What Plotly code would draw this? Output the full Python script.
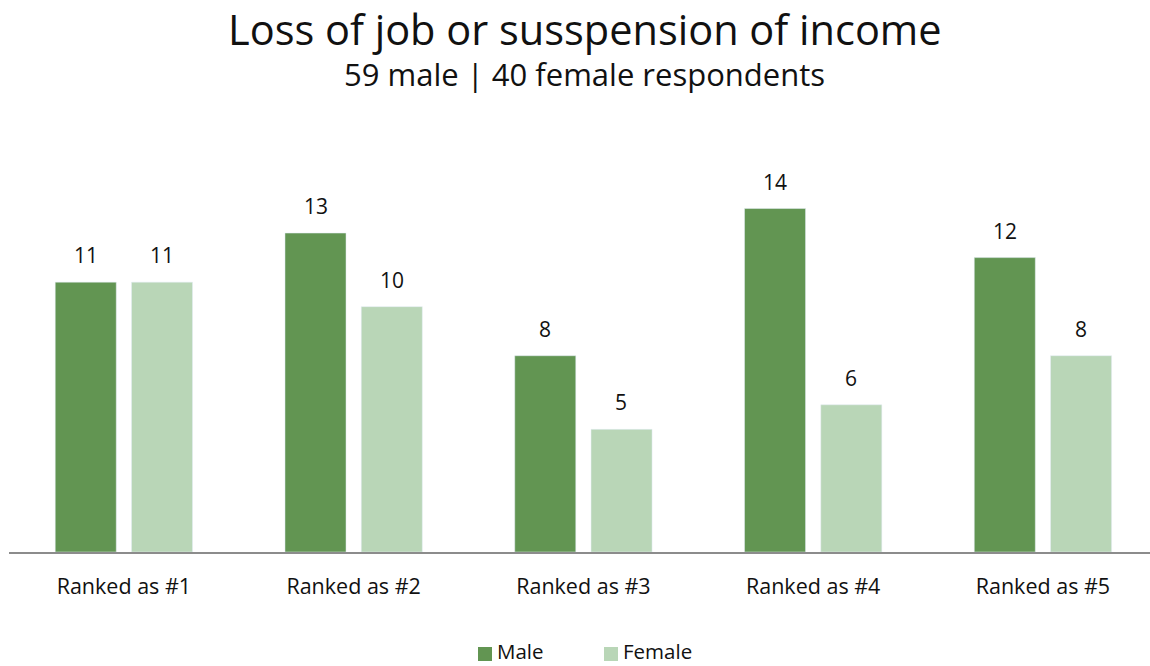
import plotly.graph_objects as go

categories = ["Ranked as #1", "Ranked as #2", "Ranked as #3", "Ranked as #4", "Ranked as #5"]
male = [11, 13, 8, 14, 12]
female = [11, 10, 5, 6, 8]
series_names = ["Male", "Female"]

MALE_COLOR = "#629552"
FEMALE_COLOR = "#b9d6b7"
FONT = "Open Sans"
TEXT = "#111111"

W, H = 1150, 666
M_L, M_R, M_T, M_B = 9, 0, 184, 114
plot_w = W - M_L - M_R
plot_h = H - M_T - M_B


def px_x(x):
    return (x - M_L) / plot_w


def px_y(y):
    return (H - M_B - y) / plot_h


fig = go.Figure()
fig.add_bar(x=categories, y=male, name=series_names[0], marker_color=MALE_COLOR)
fig.add_bar(x=categories, y=female, name=series_names[1], marker_color=FEMALE_COLOR)

annotations = []
for cat, m, f in zip(categories, male, female):
    for val, shift in ((m, -38), (f, 38)):
        annotations.append(dict(
            x=cat, y=val, xref="x", yref="y", text=str(val), showarrow=False,
            xshift=shift, yshift=11, yanchor="bottom",
            font=dict(family=FONT, size=21, color=TEXT),
        ))

# title and subtitle
annotations.append(dict(
    text="Loss of job or susspension of income", x=0.5045, xref="paper", yref="paper",
    y=px_y(29), yanchor="middle", showarrow=False,
    font=dict(family=FONT, size=41.5, color=TEXT),
))
annotations.append(dict(
    text="59 male | 40 female respondents", x=0.5045, xref="paper", yref="paper",
    y=px_y(74), yanchor="middle", showarrow=False,
    font=dict(family=FONT, size=31, color=TEXT),
))

# legend drawn as swatches + labels
shapes = []
legend_items = [(series_names[0], MALE_COLOR, 478), (series_names[1], FEMALE_COLOR, 604)]
for name, color, x0 in legend_items:
    shapes.append(dict(type="rect", xref="paper", yref="paper",
                       x0=px_x(x0), x1=px_x(x0 + 14), y0=px_y(661), y1=px_y(647),
                       fillcolor=color, line=dict(width=0)))
    annotations.append(dict(
        text=name, x=px_x(x0 + 17), xanchor="left", xref="paper", yref="paper",
        y=px_y(651), yanchor="middle", showarrow=False,
        font=dict(family=FONT, size=20.5, color=TEXT),
    ))

fig.update_layout(
    width=W, height=H,
    margin=dict(l=M_L, r=M_R, t=M_T, b=M_B, autoexpand=False),
    paper_bgcolor="white", plot_bgcolor="white",
    barmode="group", bargap=0.336, bargroupgap=0.2,
    showlegend=False,
    xaxis=dict(showline=True, linecolor="#8c8c8c", linewidth=2,
               ticks="outside", ticklen=14, tickcolor="rgba(0,0,0,0)",
               range=[-0.5, 4.466], automargin=False,
               tickfont=dict(family=FONT, size=21.5, color=TEXT)),
    yaxis=dict(range=[0, 15], visible=False, showgrid=False, automargin=False),
    annotations=annotations,
    shapes=shapes,
    font=dict(family=FONT),
)

fig.write_html("out.html")
